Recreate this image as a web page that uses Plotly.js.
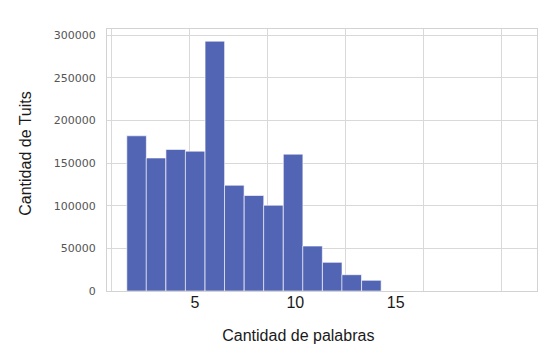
<!DOCTYPE html>
<html>
<head>
<meta charset="utf-8">
<script src="https://cdn.plot.ly/plotly-3.0.1.min.js"></script>
<style>html,body{margin:0;padding:0;background:#fff;}#chart{width:559px;height:357px;}</style>
</head>
<body>
<div id="chart"></div>
<script>
// Histogram bins (word counts) and tweet counts per bin
const binCenters = [2.09, 3.06, 4.04, 5.01, 5.99, 6.96, 7.94, 8.91, 9.89, 10.86, 11.84, 12.81, 13.79];
const tweetCounts = [182000, 156000, 166000, 164000, 293000, 124000, 112000, 100500, 160500, 52700, 33600, 19100, 12500];
const xTickVals = [5, 10, 15];
const yTickVals = [0, 50000, 100000, 150000, 200000, 250000, 300000];

// invisible trace so the background grid subplot is drawn
const gridTrace = {
  type: 'scatter', mode: 'markers', x: [null], y: [null],
  xaxis: 'x', yaxis: 'y', hoverinfo: 'skip', showlegend: false
};

const barTrace = {
  type: 'bar',
  x: binCenters,
  y: tweetCounts,
  width: 0.975,
  xaxis: 'x2',
  yaxis: 'y2',
  marker: { color: '#5264b4', line: { color: 'rgba(255,255,255,0.6)', width: 1 } },
  hoverinfo: 'x+y'
};

const layout = {
  width: 559,
  height: 357,
  margin: { l: 107, r: 22, t: 16, b: 66, pad: 0 },
  paper_bgcolor: '#ffffff',
  plot_bgcolor: 'rgba(0,0,0,0)',
  showlegend: false,
  bargap: 0,
  // background frame + grid axes
  xaxis: {
    domain: [0, 1], anchor: 'y', range: [-0.0513, 5.4615], dtick: 1, tick0: 0,
    showgrid: true, gridcolor: '#d9d9d9', gridwidth: 1,
    showticklabels: false, ticks: '', zeroline: false,
    showline: true, mirror: true, linecolor: '#d3d3d3', linewidth: 1.2, fixedrange: true
  },
  yaxis: {
    domain: [0, 0.9527], anchor: 'x', range: [0, 307250], dtick: 50000, tick0: 0,
    showgrid: true, gridcolor: '#d9d9d9', gridwidth: 1,
    showticklabels: false, ticks: '', zeroline: false,
    showline: true, mirror: true, linecolor: '#d3d3d3', linewidth: 1.2, fixedrange: true
  },
  // labelled data axes
  xaxis2: {
    domain: [0, 0.8899], anchor: 'y2', range: [0.616, 19.685],
    tickmode: 'array', tickvals: xTickVals, ticktext: xTickVals.map(String),
    showgrid: false, zeroline: false, showline: false, ticks: '',
    tickfont: { family: 'Liberation Sans, Arial, sans-serif', size: 16, color: '#1a1a1a' },
    title: { text: 'Cantidad de palabras', standoff: 19,
      font: { family: 'Liberation Sans, Arial, sans-serif', size: 16, color: '#1a1a1a' } },
    automargin: false, fixedrange: true
  },
  yaxis2: {
    domain: [0, 1], anchor: 'x2', range: [0, 322500],
    tickmode: 'array', tickvals: yTickVals, ticktext: yTickVals.map(String),
    showgrid: false, zeroline: false, showline: false,
    ticks: 'outside', ticklen: 8, tickcolor: 'rgba(0,0,0,0)',
    tickfont: { family: 'DejaVu Sans, sans-serif', size: 11, color: '#555555' },
    title: { text: 'Cantidad de Tuits', standoff: 18,
      font: { family: 'Liberation Sans, Arial, sans-serif', size: 16, color: '#1a1a1a' } },
    automargin: false, fixedrange: true
  }
};

Plotly.newPlot('chart', [gridTrace, barTrace], layout, { displayModeBar: false, staticPlot: true });
</script>
</body>
</html>
